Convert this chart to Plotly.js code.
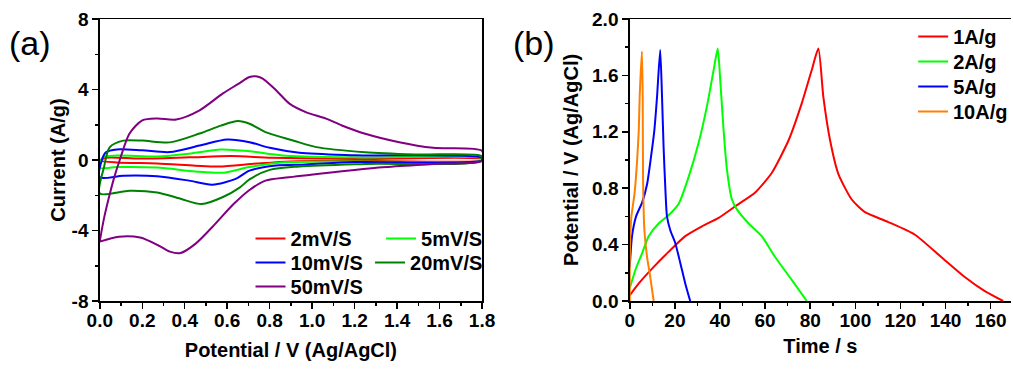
<!DOCTYPE html>
<html><head><meta charset="utf-8">
<script src="https://cdn.plot.ly/plotly-3.0.1.min.js"></script>
<style>html,body{margin:0;padding:0;background:#fff}#chart{width:1013px;height:370px}</style>
</head><body><div id="chart"></div>
<script>
// ---- Panel (a): cyclic voltammetry ----
var cvNames = ['2mV/S', '5mV/S', '10mV/S', '20mV/S', '50mV/S'];
var cv2V = [0, 0.03, 0.19, 0.42, 0.62, 0.81, 1.2, 1.8, 1.8, 1.2, 0.9, 0.74, 0.56, 0.45, 0.27, 0.08, 0];
var cv2I = [-0.03, 0.13, 0.08, 0.15, 0.22, 0.13, 0.06, 0.05, -0.02, -0.04, -0.08, -0.2, -0.37, -0.32, -0.2, -0.14, -0.03];
var cv5V = [0, 0.015, 0.08, 0.27, 0.42, 0.57, 0.705, 0.86, 1.2, 1.8, 1.8, 1.2, 0.86, 0.705, 0.58, 0.45, 0.27, 0.08, 0];
var cv5I = [-0.44, 0.15, 0.25, 0.2, 0.36, 0.6, 0.5, 0.26, 0.15, 0.1, -0.03, -0.08, -0.14, -0.4, -0.72, -0.65, -0.43, -0.4, -0.44];
var cv10V = [0, 0.01, 0.03, 0.08, 0.2, 0.33, 0.47, 0.6, 0.705, 0.8, 0.94, 1.2, 1.8, 1.8, 1.2, 0.97, 0.83, 0.705, 0.64, 0.53, 0.42, 0.27, 0.11, 0];
var cv10I = [-0.98, 0, 0.45, 0.6, 0.55, 0.45, 0.82, 1.16, 1.01, 0.69, 0.41, 0.27, 0.12, -0.03, -0.12, -0.25, -0.31, -0.6, -1.07, -1.4, -1.17, -0.92, -0.89, -0.98];
var cv20V = [0, 0.02, 0.047, 0.11, 0.2, 0.33, 0.47, 0.57, 0.65, 0.705, 0.78, 0.91, 1.02, 1.25, 1.49, 1.8, 1.8, 1.25, 0.94, 0.8, 0.705, 0.66, 0.58, 0.48, 0.38, 0.27, 0.14, 0];
var cv20I = [-1.9, -0.4, 0.73, 1.1, 1.1, 1.0, 1.5, 1.95, 2.21, 2.06, 1.58, 1.11, 0.73, 0.44, 0.31, 0.22, -0.05, -0.22, -0.37, -0.56, -1.1, -1.55, -2.1, -2.5, -2.2, -1.84, -1.74, -1.9];
var cv50V = [0, 0.02, 0.047, 0.07, 0.094, 0.14, 0.2, 0.27, 0.36, 0.47, 0.58, 0.65, 0.705, 0.735, 0.767, 0.83, 0.893, 0.97, 1.065, 1.14, 1.25, 1.41, 1.57, 1.8,
             1.8, 1.57, 1.33, 1.1, 0.89, 0.78, 0.705, 0.63, 0.53, 0.45, 0.38, 0.33, 0.28, 0.19, 0.09, 0];
var cv50I = [-4.6, -3.3, -1.93, -0.9, 0, 1.5, 2.25, 2.36, 2.3, 2.82, 3.78, 4.3, 4.71, 4.75, 4.62, 3.96, 3.2, 2.72, 2.35, 1.96, 1.49, 1.01, 0.69, 0.52,
             -0.03, -0.22, -0.41, -0.69, -0.98, -1.17, -1.7, -2.5, -3.8, -4.76, -5.28, -5.2, -4.87, -4.4, -4.35, -4.63];
var cvColors = ['#FF0000', '#00FF00', '#0000FF', '#008000', '#800080'];

// ---- Panel (b): galvanostatic charge/discharge ----
var gcdNames = ['1A/g', '2A/g', '5A/g', '10A/g'];
var g1T = [0, 4, 9.9, 17.3, 24.6, 32, 39.4, 47.5, 55.6, 63, 70.4, 76.2, 80.7, 83.6, 85.8, 88.8, 92.5, 98.4, 104.3, 114.6, 126.4, 138.2, 148.5, 157.4, 165.5];
var g1U = [0.04, 0.125, 0.23, 0.35, 0.46, 0.53, 0.59, 0.68, 0.77, 0.91, 1.14, 1.4, 1.64, 1.79, 1.45, 1.14, 0.9, 0.72, 0.63, 0.56, 0.47, 0.31, 0.17, 0.07, 0];
var g2T = [0, 2.5, 5.5, 8.4, 12.8, 17.3, 21.7, 26.1, 30.5, 34.2, 37.2, 39.0, 40.1, 41.6, 43.1, 45.3, 47.5, 52.7, 58.5, 64.5, 71.8, 78.5];
var g2U = [0.09, 0.22, 0.34, 0.46, 0.55, 0.61, 0.69, 0.88, 1.12, 1.38, 1.64, 1.79, 1.57, 1.21, 0.93, 0.72, 0.65, 0.55, 0.46, 0.31, 0.15, 0];
var g5T = [0, 1, 2.8, 5.5, 7.7, 9.4, 10.9, 12.1, 13.5, 14.3, 15, 15.8, 16.5, 18, 20.2, 22.4, 24.6, 26.8];
var g5U = [0.24, 0.46, 0.6, 0.7, 0.83, 1.02, 1.21, 1.45, 1.78, 1.45, 1.09, 0.79, 0.6, 0.5, 0.41, 0.27, 0.125, 0];
var g10T = [0, 0.1, 0.74, 2.1, 3.2, 4, 4.4, 5.4, 5.75, 5.9, 6.5, 7.7, 9.1, 10.6];
var g10U = [0, 0.385, 0.6, 0.76, 0.98, 1.21, 1.45, 1.77, 1.45, 0.86, 0.5, 0.31, 0.17, 0];
var gcdColors = ['#FF0000', '#00FF00', '#0000FF', '#FF8000'];

// ---- Tick labels ----
var aYVals = [-8, -4, 0, 4, 8];
var aYText = ['-8', '-4', '0', '4', '8'];

var W = 1013, H = 370, T = 19, B = 69;
function px(x) { return x / W; }
function py(y) { return (H - B - y) / (H - T - B); }

var cvX = [cv2V, cv5V, cv10V, cv20V, cv50V];
var cvY = [cv2I, cv5I, cv10I, cv20I, cv50I];
var gX = [g1T, g2T, g5T, g10T];
var gY = [g1U, g2U, g5U, g10U];

var fontFam = 'Liberation Sans, Arial, sans-serif';
var tickFont = {family: fontFam, size: 19, color: '#000', weight: 700};
var titleFont = {family: fontFam, size: 20, color: '#000', weight: 700};
var legFont = {family: fontFam, size: 20, color: '#000', weight: 700};

// legend placement: [x, top y, xanchor]
var cvLegPos = [[251, 219, 'left'], [489, 219, 'right'], [251, 243, 'left'], [489, 243, 'right'], [251, 267, 'left']];
var gLegPos = [[915, 17, 'left'], [915, 42, 'left'], [915, 67, 'left'], [915, 92, 'left']];

var data = [];
var legends = {};
var li = 1;
function legKey(n) { return n === 1 ? 'legend' : 'legend' + n; }
function mkLeg(p) {
  return {x: px(p[0]), y: py(p[1]), xanchor: p[2], yanchor: 'top', font: legFont, bgcolor: 'rgba(0,0,0,0)',
    borderwidth: 0, orientation: 'v', tracegroupgap: 0};
}
for (var i = 0; i < cvNames.length; i++) {
  var k = legKey(li++);
  legends[k] = mkLeg(cvLegPos[i]);
  data.push({x: cvX[i], y: cvY[i], name: cvNames[i], type: 'scatter', mode: 'lines',
    xaxis: 'x', yaxis: 'y', legend: k,
    line: {color: cvColors[i], width: 2, shape: 'spline', smoothing: 0.8}});
}
for (var j = 0; j < gcdNames.length; j++) {
  var k2 = legKey(li++);
  legends[k2] = mkLeg(gLegPos[j]);
  data.push({x: gX[j], y: gY[j], name: gcdNames[j], type: 'scatter', mode: 'lines',
    xaxis: 'x2', yaxis: 'y2', legend: k2,
    line: {color: gcdColors[j], width: 2, shape: 'spline', smoothing: 0.6}});
}

function axisBase() {
  return {showgrid: false, zeroline: false, showline: true, mirror: true, linecolor: '#000', linewidth: 1.5,
    ticks: 'outside', ticklen: 6, tickwidth: 1.5, tickcolor: '#000', tickfont: tickFont,
    minor: {ticks: 'outside', ticklen: 3, tickwidth: 1.5, tickcolor: '#000', showgrid: false}};
}

var xa = axisBase();
Object.assign(xa, {domain: [px(100), px(483)], range: [0, 1.8], dtick: 0.2, tick0: 0, tickformat: '.1f', anchor: 'y',
  ticklabelstandoff: -4,
  minor: Object.assign(xa.minor, {dtick: 0.1}),
  title: {text: 'Potential / V (Ag/AgCl)', font: titleFont, standoff: 12}});
var ya = axisBase();
Object.assign(ya, {domain: [0, 1], range: [-8, 8], tickmode: 'array', tickvals: aYVals, ticktext: aYText, anchor: 'x',
  minor: Object.assign(ya.minor, {tickmode: 'linear', dtick: 2, tick0: 0}),
  title: {text: 'Current (A/g)', font: titleFont, standoff: 0}});
var xb = axisBase();
Object.assign(xb, {domain: [px(631), 1], range: [0, 169], dtick: 20, tick0: 0, anchor: 'y2',
  ticklabelstandoff: -4,
  minor: Object.assign(xb.minor, {dtick: 10}),
  title: {text: 'Time / s', font: titleFont, standoff: 8}});
var yb = axisBase();
Object.assign(yb, {domain: [0, 1], range: [0, 2.0], dtick: 0.4, tick0: 0, tickformat: '.1f', anchor: 'x2', mirror: false,
  minor: Object.assign(yb.minor, {dtick: 0.2}),
  title: {text: 'Potential / V (Ag/AgCl)', font: titleFont, standoff: 8}});

var layout = {
  width: W, height: H, margin: {l: 0, r: 0, t: T, b: B},
  paper_bgcolor: '#fff', plot_bgcolor: '#fff', showlegend: true,
  font: {family: fontFam, color: '#000'},
  xaxis: xa, yaxis: ya, xaxis2: xb, yaxis2: yb,
  annotations: [
    {text: '(a)', x: px(7), y: py(22), xref: 'paper', yref: 'paper', xanchor: 'left', yanchor: 'top', showarrow: false,
     font: {family: fontFam, size: 34, color: '#000'}},
    {text: '(b)', x: px(512), y: py(22), xref: 'paper', yref: 'paper', xanchor: 'left', yanchor: 'top', showarrow: false,
     font: {family: fontFam, size: 34, color: '#000'}}
  ]
};
Object.assign(layout, legends);

Plotly.newPlot('chart', data, layout, {displayModeBar: false, staticPlot: true});
</script>
</body></html>
